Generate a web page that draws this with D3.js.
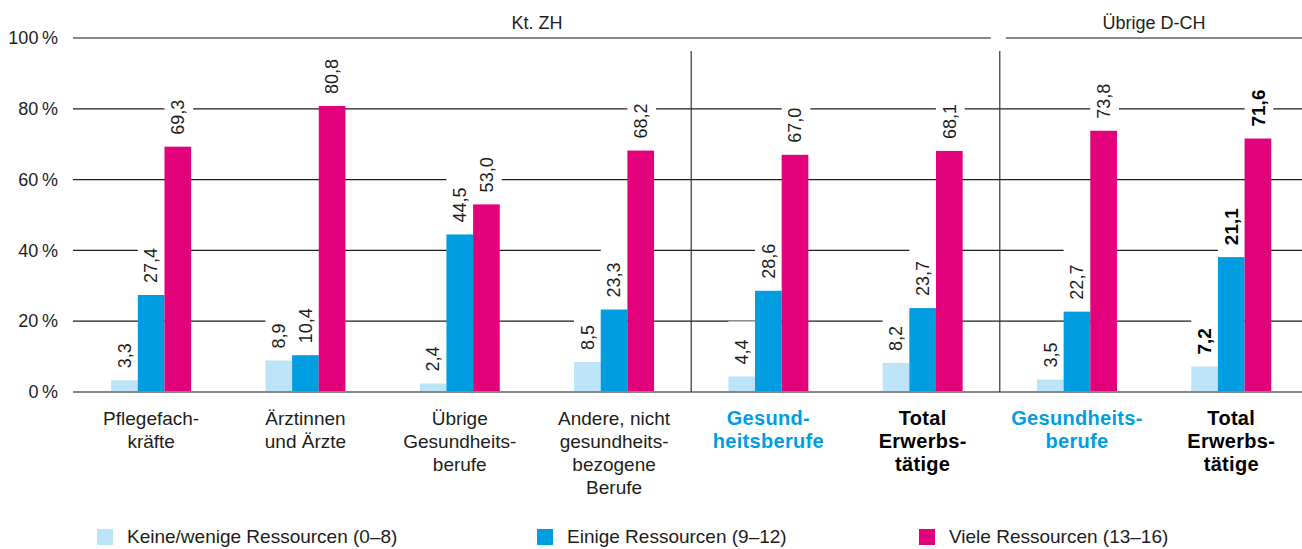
<!DOCTYPE html>
<html>
<head>
<meta charset="utf-8">
<script src="https://cdn.jsdelivr.net/npm/d3@7"></script>
<style>
  body { margin: 0; background: #fff; }
  svg { font-family: "Liberation Sans", Arial, sans-serif; }
</style>
</head>
<body>
<div id="chart"></div>
<script>
const width = 1302
const height = 549

// data
const categories = [
  "Pflegefach-|kräfte", "Ärztinnen|und Ärzte", "Übrige|Gesundheits-|berufe",
  "Andere, nicht|gesundheits-|bezogene|Berufe", "Gesund-|heitsberufe", "Total|Erwerbs-|tätige",
  "Gesundheits-|berufe", "Total|Erwerbs-|tätige"
]
const catKind = ["plain", "plain", "plain", "plain", "health", "total", "health", "total"]
const series = ["keine", "einige", "viele"]
const seriesNames = ["Keine/wenige Ressourcen (0–8)", "Einige Ressourcen (9–12)", "Viele Ressourcen (13–16)"]
const keine = [3.3, 8.9, 2.4, 8.5, 4.4, 8.2, 3.5, 7.2]
const einige = [27.4, 10.4, 44.5, 23.3, 28.6, 23.7, 22.7, 38.1]
const viele = [69.3, 80.8, 53.0, 68.2, 67.0, 68.1, 73.8, 71.6]
const keineText = ["3,3", "8,9", "2,4", "8,5", "4,4", "8,2", "3,5", "7,2"]
const einigeText = ["27,4", "10,4", "44,5", "23,3", "28,6", "23,7", "22,7", "21,1"]
const vieleText = ["69,3", "80,8", "53,0", "68,2", "67,0", "68,1", "73,8", "71,6"]
const regions = ["Kt. ZH", "Übrige D-CH"]
const regionSize = [6, 2]
const dividers = [4, 6]
const yTicks = [0, 20, 40, 60, 80, 100]

const colors = {keine: "#bde3f8", einige: "#009ee0", viele: "#e3007b"}
const values = {keine, einige, viele}
const texts = {keine: keineText, einige: einigeText, viele: vieleText}

const svg = d3.select("div#chart").append("svg").attr("width", width).attr("height", height)

const x0 = d3.scaleBand().domain(d3.range(categories.length)).range([74, 74 + 8 * 154.3]).padding(0)
const x1 = d3.scaleBand().domain(series).range([0, 80])
const groupOffset = (x0.bandwidth() - 80) / 2
const y = d3.scaleLinear().domain([0, 100]).range([392, 38])

const gridGroup = svg.append("g")
const boxGroup = svg.append("g")
const barGroup = svg.append("g")
const labelGroup = svg.append("g")
const frameGroup = svg.append("g")

// inner grid lines
gridGroup.selectAll("line").data(yTicks.filter(t => t > 0 && t < 100)).enter()
  .append("line")
  .attr("x1", 73).attr("x2", width)
  .attr("y1", d => y(d)).attr("y2", d => y(d))
  .attr("stroke", "#1d1d1b").attr("stroke-width", 1.2)

// y axis labels
const yAxis = d3.axisLeft(y).tickValues(yTicks).tickSize(0).tickPadding(15).tickFormat(d => d + "\u2009%")
const yAxisGroup = svg.append("g").attr("transform", "translate(73,0)").call(yAxis)
yAxisGroup.select(".domain").remove()
yAxisGroup.selectAll("text").attr("font-size", 18).attr("fill", "#1d1d1b").attr("font-family", "Liberation Sans, Arial, sans-serif")

// bars + labels
const rows = []
series.forEach(s => {
  categories.forEach((c, i) => rows.push({s, i, v: values[s][i], t: texts[s][i]}))
})
const barX = d => x0(d.i) + groupOffset + x1(d.s)

barGroup.selectAll("rect").data(rows).enter()
  .append("rect")
  .attr("x", barX)
  .attr("y", d => y(d.v))
  .attr("width", x1.bandwidth())
  .attr("height", d => y(0) - y(d.v))
  .attr("fill", d => colors[d.s])

const labels = labelGroup.selectAll("text").data(rows).enter()
  .append("text")
  .attr("transform", d => `translate(${barX(d) + x1.bandwidth() / 2},${y(d.v) - 12}) rotate(-90)`)
  .attr("dy", "0.35em")
  .attr("font-size", d => d.i === 7 ? 19 : 18)
  .attr("font-weight", d => d.i === 7 ? "bold" : "normal")
  .attr("fill", d => d.i === 7 ? "#000" : "#1d1d1b")
  .text(d => d.t)

// white boxes behind labels break the grid lines
labels.each(function(d) {
  const len = this.getComputedTextLength()
  const top = y(d.v) - 12 - len - 18
  boxGroup.append("rect")
    .attr("x", barX(d)).attr("y", top)
    .attr("width", x1.bandwidth() + 2).attr("height", y(d.v) - top)
    .attr("fill", "#fff")
})

// base line and top line with region headers
frameGroup.append("line")
  .attr("x1", 73).attr("x2", width).attr("y1", y(0)).attr("y2", y(0))
  .attr("stroke", "#878787").attr("stroke-width", 2)

let start = 0
regions.forEach((r, k) => {
  const end = start + regionSize[k]
  const left = k === 0 ? 73 : x0(start) + 6
  const right = end === categories.length ? width : x0(end) - 9
  frameGroup.append("line")
    .attr("x1", left).attr("x2", right).attr("y1", y(100)).attr("y2", y(100))
    .attr("stroke", "#878787").attr("stroke-width", 2)
  const mid = (x0(start) + (end === categories.length ? x0.range()[1] : x0(end))) / 2
  frameGroup.append("text")
    .attr("x", mid).attr("y", 29)
    .attr("text-anchor", "middle").attr("font-size", 18).attr("fill", "#1d1d1b")
    .text(r)
  start = end
})

frameGroup.selectAll(".divider").data(dividers).enter()
  .append("line")
  .attr("class", "divider")
  .attr("x1", d => x0(d)).attr("x2", d => x0(d))
  .attr("y1", 51).attr("y2", y(0))
  .attr("stroke", "#333").attr("stroke-width", 1.2)

// category labels
const xAxis = d3.axisBottom(x0).tickSize(0).tickFormat(() => "")
const xAxisGroup = svg.append("g").call(xAxis)
xAxisGroup.select(".domain").remove()
xAxisGroup.selectAll(".tick text").each(function(i) {
  const bold = catKind[i] !== "plain"
  const t = d3.select(this)
    .attr("y", 0).attr("dy", 0)
    .attr("font-size", bold ? 20 : 19)
    .attr("font-family", "Liberation Sans, Arial, sans-serif")
    .attr("font-weight", bold ? "bold" : "normal")
    .attr("letter-spacing", bold ? 0.3 : 0)
    .attr("fill", catKind[i] === "health" ? "#009ee0" : (catKind[i] === "total" ? "#000" : "#1d1d1b"))
  categories[i].split("|").forEach((line, j) => {
    t.append("tspan").attr("x", 0).attr("y", 425 + j * 23).text(line)
  })
})

// legend
const legendX = [97, 537, 919]
const legend = svg.append("g").selectAll("g").data(series).enter()
  .append("g").attr("transform", (d, i) => `translate(${legendX[i]},529)`)
legend.append("rect").attr("width", 16).attr("height", 16).attr("fill", d => colors[d])
legend.append("text").attr("x", 30).attr("y", 14).attr("font-size", 19).attr("fill", "#1d1d1b")
  .text((d, i) => seriesNames[i])
</script>
</body>
</html>
